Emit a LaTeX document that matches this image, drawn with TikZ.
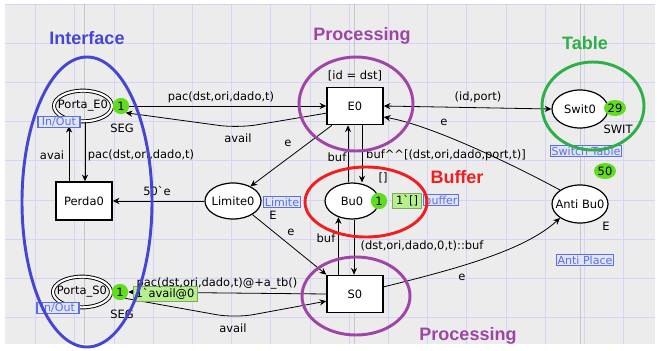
\documentclass[tikz,border=0pt]{standalone}
\usepackage{fontspec}
\setmainfont{DejaVu Sans}
\newfontfamily\titlefont{Liberation Sans}
\usetikzlibrary{shapes.geometric,arrows.meta}
\definecolor{bg}{HTML}{ECECEC}
\definecolor{gridc}{HTML}{D4D4F6}
\definecolor{guide}{HTML}{C6C6C6}
\definecolor{ifblue}{HTML}{4646D2}
\definecolor{procpurple}{HTML}{A044A8}
\definecolor{tablegreen}{HTML}{2EAF48}
\definecolor{bufred}{HTML}{F01E1E}
\definecolor{lblblue}{HTML}{5C70E0}
\definecolor{lblfill}{HTML}{E2E5F8}
\definecolor{tokgreen}{HTML}{62DC1E}
\definecolor{markfill}{HTML}{B6F08E}
\begin{document}
\begin{tikzpicture}[x=0.75pt,y=-0.75pt,
  txt/.style={font=\fontsize{8.6}{10}\selectfont, inner sep=0.5pt},
  place/.style={ellipse, draw, fill=white, line width=0.9pt, inner sep=0pt},
  port/.style={ellipse, draw, double=white, double distance=1.6pt, line width=0.7pt, inner sep=0pt},
  trans/.style={rectangle, draw, fill=white, line width=1.1pt, minimum width=42pt, minimum height=28pt, inner sep=0pt, font=\fontsize{8.6}{10}\selectfont},
  token/.style={circle, fill=tokgreen, minimum size=12pt, inner sep=0pt, font=\fontsize{8.6}{10}\selectfont},
  marking/.style={rectangle, fill=markfill, draw=markfill!70!black, line width=0.4pt, inner sep=1pt, minimum height=11pt, font=\fontsize{8.6}{10}\selectfont},
  tag/.style={rectangle, draw=lblblue, fill=lblfill, text=lblblue, line width=0.8pt, inner sep=0.8pt, minimum height=8pt, font=\fontsize{8.3}{9}\selectfont},
  tip/.tip={Stealth[length=5pt,width=4.6pt,inset=1.6pt]},
  arc/.style={draw, line width=0.6pt, -tip},
  group/.style={line width=2.2pt},
  title/.style={font=\titlefont\bfseries\fontsize{13.5}{15}\selectfont, inner sep=0pt}
]
% background and grid
\fill[white] (0,0) rectangle (657,350);
\fill[bg] (5,4) rectangle (655,344);
\foreach \x in {35.6,74.8,...,650} \draw[gridc, line width=0.6pt] (\x,4) -- (\x,344);
\foreach \y in {4,43.2,...,340} \draw[gridc, line width=0.6pt] (5,\y) -- (655,\y);
\foreach \x in {84,354,580} \draw[guide, line width=0.7pt] (\x,4) -- (\x,344);

% places
\node[port, minimum width=43.5pt, minimum height=23pt] (PortaE) at (83,106) {};
\node[txt] (PortaEt) at (PortaE) {Porta\_E0};
\node[port, minimum width=43.5pt, minimum height=23pt] (PortaS) at (82,292) {};
\node[txt] (PortaSt) at (PortaS) {Porta\_S0};
\node[place, minimum width=42pt, minimum height=27pt] (Limite0) at (233,201) {};
\node[txt] (Limite0t) at (Limite0) {Limite0};
\node[place, minimum width=40.5pt, minimum height=27pt] (Bu0) at (352,201) {};
\node[txt] (Bu0t) at (Bu0) {Bu0};
\node[place, minimum width=42pt, minimum height=28.5pt] (Swit0) at (580,109) {};
\node[txt] (Swit0t) at (Swit0) {Swit0};
\node[place, minimum width=42pt, minimum height=28.5pt] (AntiBu0) at (580,204) {};
\node[txt] (AntiBu0t) at (AntiBu0) {Anti Bu0};

% transitions
\node[trans] (E0) at (355,106) {E0};
\node[trans] (S0) at (355,294) {S0};
\node[trans, minimum height=28.5pt] (Perda0) at (84,201) {Perda0};

% tokens
\node[token] (tokE) at (121,106) {1};
\node[token] (tokS) at (120,292) {1};
\node[token] (tokB) at (379,201) {1};

% arcs
\draw[arc] (tokE.east) -- (E0.west);
\draw[arc, rounded corners=14pt] (E0.194) -- (238,128) -- (tokE.-55);
\draw[arc, shorten >=4.5pt] (Perda0.north -| PortaE.225) -- (PortaE.225);
\draw[arc] ([xshift=1.5pt]PortaE.south) -- ([xshift=1.5pt]PortaE.south |- Perda0.north);
\draw[arc] (Limite0.west) -- (Perda0.east);
\draw[arc] (E0.220) -- (Limite0.40);
\draw[arc] (Limite0.-35) -- (S0.north west);
\draw[arc] ([xshift=-3pt]Bu0.north) -- ([xshift=-3pt]Bu0.north |- E0.south);
\draw[arc] ([xshift=5.25pt]E0.south) -- ([xshift=5.25pt]E0.south |- Bu0.north);
\draw[arc] (S0.north -| Bu0.230) -- (Bu0.230);
\draw[arc] ([xshift=1.5pt]Bu0.south) -- ([xshift=1.5pt]Bu0.south |- S0.north);
\draw[arc, tip-tip] (E0.east) -- (Swit0.west);
\draw[arc] (AntiBu0.145) .. controls (510,163) and (430,125) .. (E0.-21);
\draw[arc] (S0.14) .. controls (460,268) and (525,250) .. (AntiBu0.215);
\draw[arc] (S0.west) -- (tokS.east);
\draw[arc, rounded corners=14pt] (tokS.-50) -- (235,318) -- (S0.194);

% redraw tokens on top
\node[token] (tokE2) at (tokE) {1};
\node[token] (tokS2) at (tokS) {1};
\node[token] (tokB2) at (tokB) {1};
\node[token, ellipse, minimum width=16.5pt, minimum height=12pt] (tokSw) at (615,108) {29};
\node[token, ellipse, minimum width=16.5pt, minimum height=12pt] (tok50) at (605,171) {50};

% markings
\node[marking, minimum width=48pt] (markS) at (165,294) {1\textasciigrave avail@0};
\node[marking, minimum width=22pt] (markB) at (407,201) {1\textasciigrave []};

% tags
\node[tag, minimum width=31.5pt] (tagE) at (59,122) {In/Out};
\node[tag, minimum width=31.5pt] (tagS) at (58,308) {In/Out};
\node[tag] (tagL) at (282,202) {Limite};
\node[tag] (tagB) at (441,200) {buffer};
\node[tag] (tagSw) at (586,151) {Switch Table};
\node[tag] (tagA) at (585,260) {Anti Place};

% color sets and guard
\node[txt] (segE) at (122,128) {SEG};
\node[txt] (segS) at (122,314) {SEG};
\node[txt] (limE) at (273,215) {E};
\node[txt] (antE) at (606,226) {E};
\node[txt] (swit) at (618,129) {SWIT};
\node[txt] (guard) at (355,76) {[id = dst]};

% arc inscriptions
\node[txt] (l1) at (221,97) {pac(dst,ori,dado,t)};
\node[txt] (l2) at (238,138) {avail};
\node[txt] (l3) at (52,155) {avai};
\node[txt] (l4) at (141,155) {pac(dst,ori,dado,t)};
\node[txt] (l5) at (157,191) {50\textasciigrave e};
\node[txt] (l6) at (288,143) {e};
\node[txt] (l7) at (337,157) {buf};
\node[txt] (l8) at (446,155) {buf\textasciicircum\textasciicircum[(dst,ori,dado,port,t)]};
\node[txt] (l9) at (383,178) {[]};
\node[txt] (l10) at (478,97) {(id,port)};
\node[txt] (l11) at (444,122) {e};
\node[txt] (l12) at (291,232) {e};
\node[txt] (l13) at (326,238) {buf};
\node[txt] (l14) at (422,246) {(dst,ori,dado,0,t)::buf};
\node[txt] (l15) at (217,283) {pac(dst,ori,dado,t)@+a\_tb()};
\node[txt] (l16) at (233,328) {avail};
\node[txt] (l17) at (462,277) {e};

% group ellipses
\draw[group, ifblue] (87,202) ellipse [x radius=48.75pt, y radius=108.75pt];
\draw[group, procpurple] (356,104) ellipse [x radius=42.75pt, y radius=35.25pt];
\draw[group, tablegreen] (593,106) ellipse [x radius=38.25pt, y radius=33pt];
\draw[group, bufred] (366,202) ellipse [x radius=45.75pt, y radius=26.25pt];
\draw[group, procpurple] (356,296) ellipse [x radius=40.5pt, y radius=29.25pt];

% titles
\node[title, text=ifblue] (tInterface) at (87,38) {Interface};
\node[title, text=procpurple] (tProc1) at (362,36) {Processing};
\node[title, text=tablegreen] (tTable) at (585,43) {Table};
\node[title, text=bufred] (tBuffer) at (457,177) {Buffer};
\node[title, text=procpurple] (tProc2) at (468,336) {Processing};
\end{tikzpicture}
\end{document}
